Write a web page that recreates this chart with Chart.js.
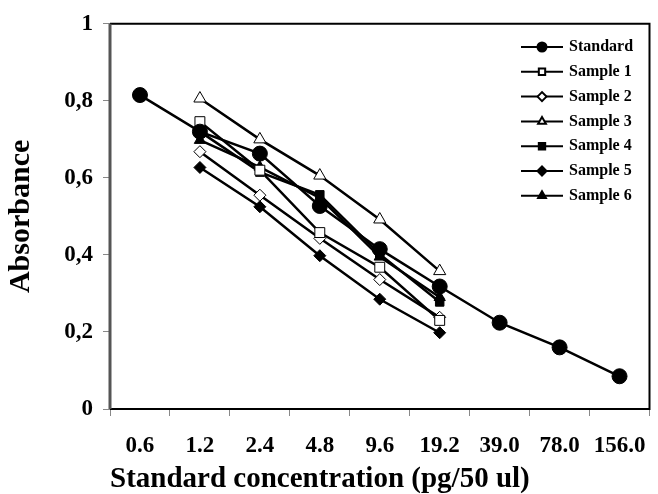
<!DOCTYPE html>
<html>
<head>
    <title>Standard curve absorbance</title>
    <script src="https://cdn.jsdelivr.net/npm/chart.js"></script>
    <style>
        html, body { margin: 0; padding: 0; background: #fff; }
        #wrap { width: 658px; height: 494px; }
    </style>
</head>
<body>
<div id="wrap"><canvas id="absChart"></canvas></div>
<script>
    // concentrations on the x axis (pg/50 ul)
    var concentrations = ['0.6', '1.2', '2.4', '4.8', '9.6', '19.2', '39.0', '78.0', '156.0'];
    var yTickLabels = ['0', '0,2', '0,4', '0,6', '0,8', '1'];

    // absorbance, null where the sample has no point
    var standard = [0.815, 0.72, 0.663, 0.527, 0.415, 0.318, 0.224, 0.160, 0.085];
    var sample1  = [null, 0.746, 0.620, 0.458, 0.368, 0.230, null, null, null];
    var sample2  = [null, 0.668, 0.555, 0.443, 0.336, 0.238, null, null, null];
    var sample3  = [null, 0.806, 0.700, 0.606, 0.492, 0.358, null, null, null];
    var sample4  = [null, 0.720, 0.615, 0.556, 0.402, 0.278, null, null, null];
    var sample5  = [null, 0.627, 0.525, 0.398, 0.285, 0.198, null, null, null];
    var sample6  = [null, 0.698, 0.628, 0.548, 0.395, 0.290, null, null, null];

    var serif = "'Liberation Serif', 'DejaVu Serif', serif";

    function series(label, data, style, fill, radius) {
        return {
            label: label,
            data: data,
            borderColor: '#000',
            borderWidth: 2.5,
            pointStyle: style,
            pointRadius: radius,
            pointBackgroundColor: fill,
            pointBorderColor: '#000',
            pointBorderWidth: 1,
            tension: 0
        };
    }

    // frame round the plot area
    var framePlugin = {
        id: 'frame',
        afterDatasetsDraw: function (chart) {
            var a = chart.chartArea, ctx = chart.ctx;
            ctx.save();
            ctx.strokeStyle = '#000';
            ctx.lineWidth = 2;
            ctx.beginPath();
            ctx.moveTo(a.left, a.top);
            ctx.lineTo(a.right, a.top);
            ctx.lineTo(a.right, a.bottom);
            ctx.lineTo(a.left, a.bottom);
            ctx.stroke();
            ctx.strokeStyle = '#555';
            ctx.lineWidth = 3;
            ctx.beginPath();
            ctx.moveTo(a.left, a.top);
            ctx.lineTo(a.left, a.bottom);
            ctx.stroke();
            ctx.restore();
        }
    };

    // legend with line + marker, drawn inside the plot at top right
    var lineLegend = {
        id: 'lineLegend',
        afterDatasetsDraw: function (chart) {
            var ctx = chart.ctx;
            var x0 = 521, x1 = 563, y = 47, step = 24.8;
            ctx.save();
            ctx.font = 'bold 16px ' + serif;
            ctx.textBaseline = 'middle';
            chart.data.datasets.forEach(function (ds) {
                ctx.strokeStyle = '#000';
                ctx.lineWidth = 2;
                ctx.beginPath();
                ctx.moveTo(x0, y);
                ctx.lineTo(x1, y);
                ctx.stroke();
                ctx.fillStyle = ds.pointBackgroundColor;
                Chart.helpers.drawPoint(ctx, {
                    pointStyle: ds.pointStyle,
                    radius: 4.5,
                    borderWidth: 1,
                    rotation: 0
                }, (x0 + x1) / 2, y);
                ctx.fillStyle = '#000';
                ctx.fillText(ds.label, 569, y);
                y += step;
            });
            ctx.restore();
        }
    };

    var ctx = document.getElementById('absChart').getContext('2d');
    new Chart(ctx, {
        type: 'line',
        data: {
            labels: concentrations,
            datasets: [
                series('Standard', standard, 'circle', '#000', 7.5),
                series('Sample 1', sample1, 'rect', '#fff', 7),
                series('Sample 2', sample2, 'rectRot', '#fff', 6),
                series('Sample 3', sample3, 'triangle', '#fff', 7),
                series('Sample 4', sample4, 'rect', '#000', 6),
                series('Sample 5', sample5, 'rectRot', '#000', 6),
                series('Sample 6', sample6, 'triangle', '#000', 6.5)
            ]
        },
        options: {
            responsive: true,
            maintainAspectRatio: false,
            animation: false,
            layout: { padding: { top: 22, right: 1, left: 6, bottom: 0 } },
            plugins: {
                legend: { display: false },
                tooltip: { enabled: false }
            },
            scales: {
                x: {
                    offset: true,
                    grid: {
                        offset: true,
                        drawOnChartArea: false,
                        drawTicks: true,
                        tickLength: 7,
                        color: '#888'
                    },
                    border: { display: false },
                    ticks: {
                        color: '#000',
                        padding: 16,
                        maxRotation: 0,
                        autoSkip: false,
                        font: { family: serif, size: 23, weight: 'bold' }
                    },
                    title: {
                        display: true,
                        align: 'start',
                        text: 'Standard concentration (pg/50 ul)',
                        color: '#000',
                        padding: { top: 0, bottom: 0 },
                        font: { family: serif, size: 29, weight: 'bold', lineHeight: 1 }
                    },
                    afterFit: function (scale) {
                        scale.height = 85;
                        scale.paddingLeft = 0;
                        scale.paddingRight = 0;
                    }
                },
                y: {
                    min: 0,
                    max: 1,
                    grid: {
                        drawOnChartArea: false,
                        drawTicks: true,
                        tickLength: 7,
                        color: '#888'
                    },
                    border: { display: false },
                    ticks: {
                        stepSize: 0.2,
                        color: '#000',
                        padding: 10,
                        font: { family: serif, size: 23, weight: 'bold' },
                        callback: function (v, i) { return yTickLabels[i]; }
                    },
                    title: {
                        display: true,
                        text: 'Absorbance',
                        color: '#000',
                        padding: { top: 0, bottom: 2 },
                        font: { family: serif, size: 30, weight: 'bold', lineHeight: 1 }
                    },
                    afterFit: function (scale) { scale.width = 104; }
                }
            }
        },
        plugins: [framePlugin, lineLegend]
    });
</script>
</body>
</html>
